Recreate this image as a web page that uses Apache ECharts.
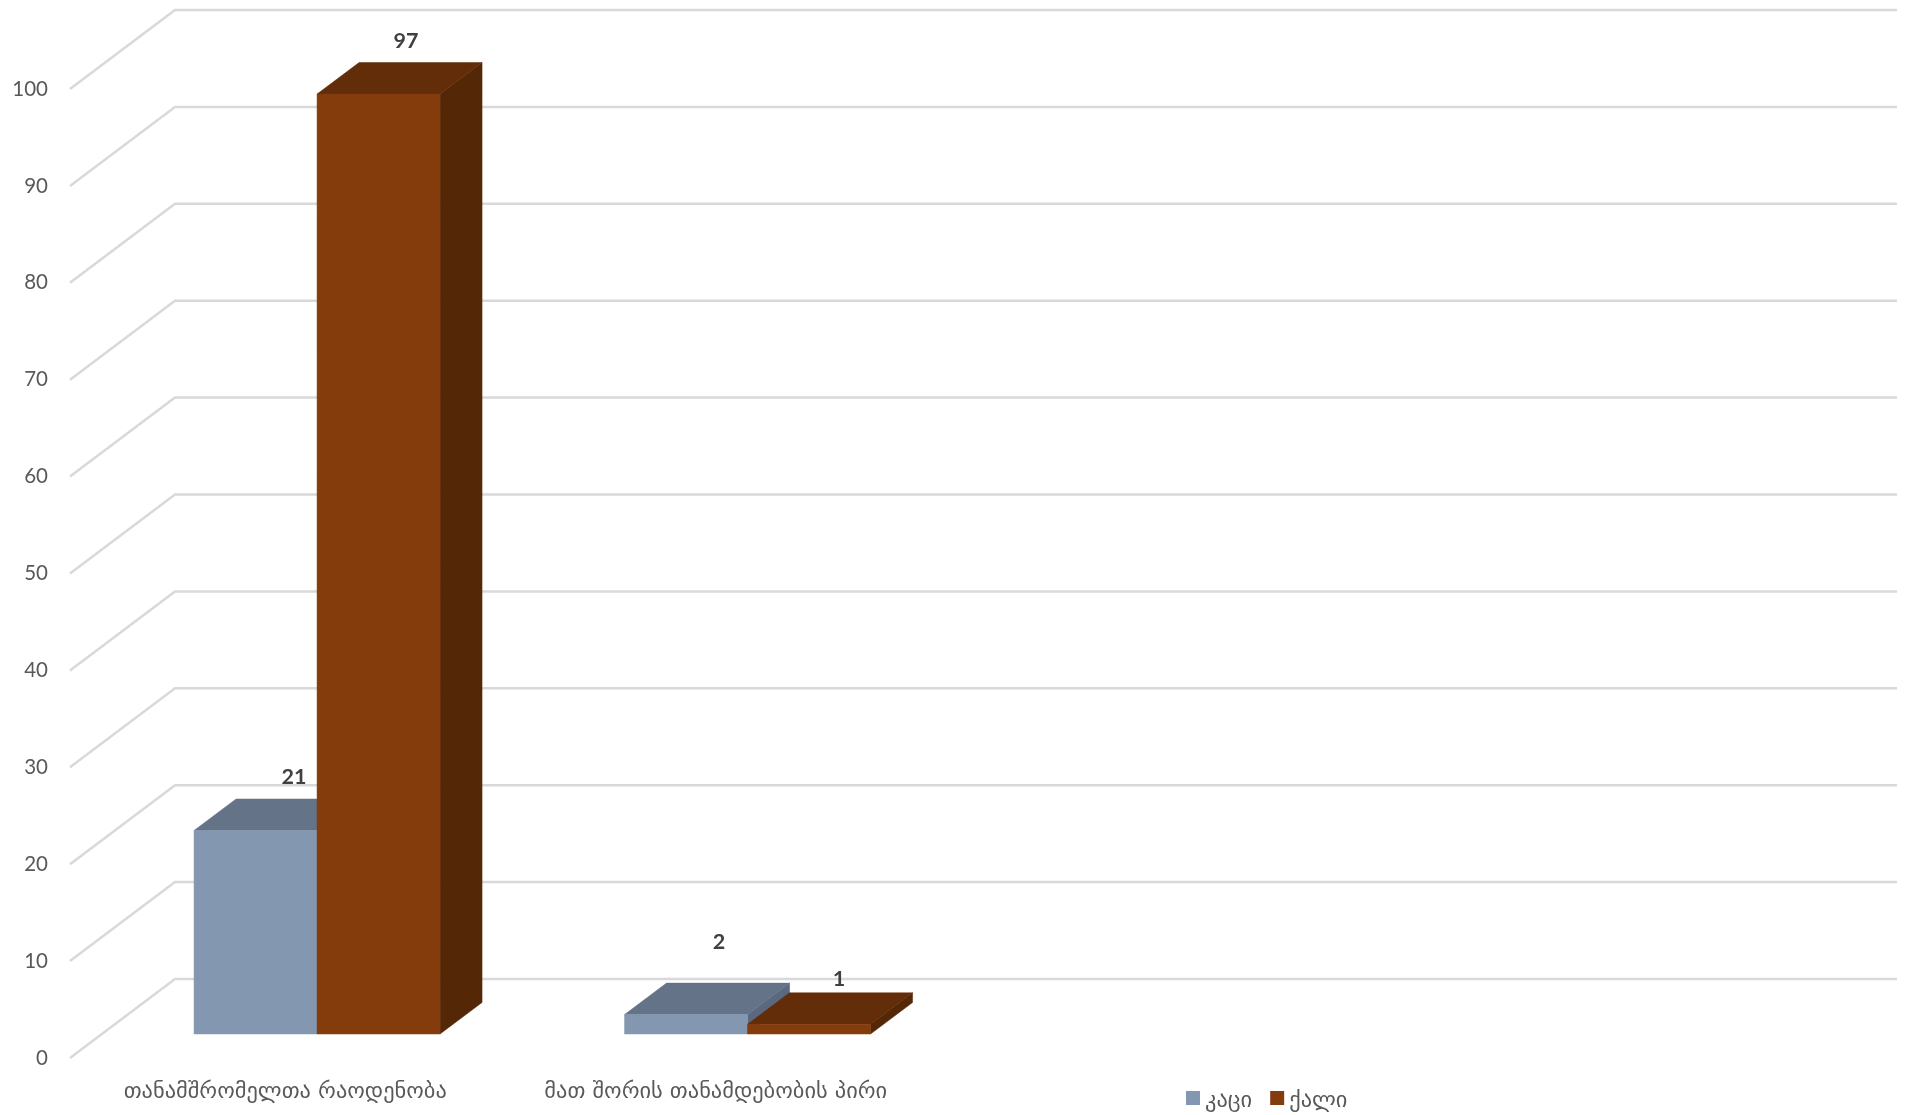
<!DOCTYPE html>
<html><head><meta charset="utf-8">
<style>html,body{margin:0;padding:0;background:#fff}#c{width:1906px;height:1115px}</style>
<script src="https://cdn.jsdelivr.net/npm/echarts@6/dist/echarts.min.js"></script>
</head><body><div id="c"></div>
<script>
const categories = ['თანამშრომელთა რაოდენობა', 'მათ შორის თანამდებობის პირი', '', ''];
const seriesNames = ['კაცი', 'ქალი'];
const maleValues = [21, 2];
const femaleValues = [97, 1];
const yTicks = [0, 10, 20, 30, 40, 50, 60, 70, 80, 90, 100];

// 3D look
const wallDepth = [105, -79];
const barFrontShift = [31.8, -24];
const barDepth = [42, -31.5];
const NUM_FONT = 'Lato, "Open Sans", sans-serif';
const GEO_FONT = '"DejaVu Sans", sans-serif';
const maleColors = { front: '#8497B0', top: '#647387', side: '#5A697D' };
const femaleColors = { front: '#843C0C', top: '#632D09', side: '#542706' };
// data-label nudges [dx, dy] from the top of the front face centre
const maleLabelNudge = [[38.5, -53], [33, -73]];
const femaleLabelNudge = [[27.5, -53.5], [30, -45]];

function barRenderer(side, colors, nudges) {
  return function (params, api) {
    const cat = api.value(0), val = api.value(1);
    const w = api.size([1, 0])[0] / 3.5;
    const base = api.coord([cat, 0]);
    const top = api.coord([cat, val]);
    const x0 = base[0] + barFrontShift[0] + (side < 0 ? -w : 0);
    const x1 = x0 + w;
    const yb = base[1] + barFrontShift[1];
    const yt = top[1] + barFrontShift[1];
    const dx = barDepth[0], dy = barDepth[1];
    const poly = (pts, fill) => ({ type: 'polygon', shape: { points: pts }, style: { fill, stroke: fill, lineWidth: 0.5 } });
    const n = nudges[params.dataIndex];
    return { type: 'group', children: [
      poly([[x1, yb], [x1 + dx, yb + dy], [x1 + dx, yt + dy], [x1, yt]], colors.side),
      poly([[x0, yt], [x0 + dx, yt + dy], [x1 + dx, yt + dy], [x1, yt]], colors.top),
      poly([[x0, yb], [x1, yb], [x1, yt], [x0, yt]], colors.front),
      { type: 'text', z2: 100, style: { text: String(val), x: (x0 + x1) / 2 + n[0], y: yt + n[1],
        fill: '#404040', font: 'bold 21.5px ' + NUM_FONT, textAlign: 'center', textVerticalAlign: 'middle' } }
    ] };
  };
}

function wallRenderer(params, api) {
  const v = api.value(0);
  const p = api.coord([0, v]);
  const cs = params.coordSys;
  const x0 = cs.x, x1 = cs.x + cs.width;
  const y = p[1];
  const ln = { stroke: '#D9D9D9', lineWidth: 2.5, fill: null, lineJoin: 'miter' };
  return { type: 'polyline', shape: { points: [[x0, y], [x0 + wallDepth[0], y + wallDepth[1]], [x1 + wallDepth[0], y + wallDepth[1]]] }, style: ln };
}

const chart = echarts.init(document.getElementById('c'));
chart.setOption({
  animation: false,
  backgroundColor: '#fff',
  grid: { left: 70, right: 114, top: 89, bottom: 57 },
  legend: {
    data: seriesNames.map((name, i) => ({ name, itemStyle: { color: i ? femaleColors.front : maleColors.front } })),
    left: 1186, top: 1090, padding: 0, itemWidth: 14, itemHeight: 20, itemGap: 18,
    icon: 'path://M0,0H14V14H0Z M0,20L0,20',
    textStyle: { fontFamily: GEO_FONT, fontSize: 22.4, color: '#595959' }
  },
  xAxis: {
    type: 'category', data: categories,
    axisLine: { show: false }, axisTick: { show: false }, splitLine: { show: false },
    axisLabel: { interval: 0, margin: 23, fontFamily: GEO_FONT, fontSize: 22.4, color: '#595959' }
  },
  yAxis: {
    type: 'value', min: 0, max: 100, interval: 10,
    axisLine: { show: false }, axisTick: { show: false }, splitLine: { show: false },
    axisLabel: { margin: 22, fontFamily: NUM_FONT, fontSize: 20.5, color: '#595959' }
  },
  series: [
    { type: 'custom', name: 'wall', silent: true, clip: false, z: 1, data: yTicks.map(v => [v]),
      encode: { y: 0 }, renderItem: wallRenderer },
    { type: 'custom', name: seriesNames[0], clip: false, z: 2, itemStyle: { color: maleColors.front },
      data: maleValues.map((v, i) => [i, v]), encode: { x: 0, y: 1 },
      renderItem: barRenderer(-1, maleColors, maleLabelNudge) },
    { type: 'custom', name: seriesNames[1], clip: false, z: 3, itemStyle: { color: femaleColors.front },
      data: femaleValues.map((v, i) => [i, v]), encode: { x: 0, y: 1 },
      renderItem: barRenderer(1, femaleColors, femaleLabelNudge) }
  ]
});
</script></body></html>
